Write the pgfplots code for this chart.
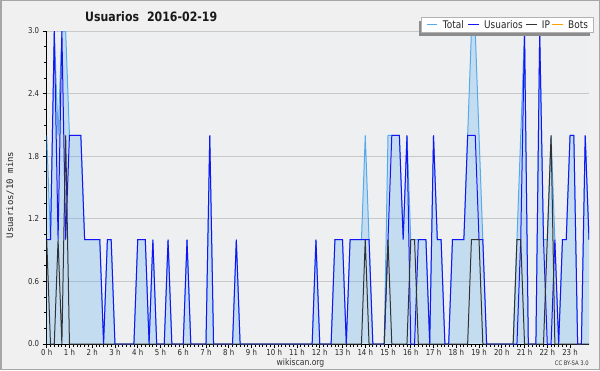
\documentclass[border=0pt]{standalone}
\usepackage{fontspec}
\setmainfont{DejaVu Sans}[FakeStretch=0.85]
\newfontfamily\monofont{DejaVu Sans Mono}
\usepackage{pgfplots}
\pgfplotsset{compat=1.18}
\usepackage{pgfplotstable}
\definecolor{totline}{RGB}{85,170,238}
\definecolor{usr}{RGB}{20,20,245}
\definecolor{ipc}{RGB}{50,50,50}
\definecolor{bots}{RGB}{255,160,0}
\definecolor{outerbg}{RGB}{240,240,240}
\definecolor{plotbg}{RGB}{238,239,241}
\definecolor{gridc}{RGB}{200,200,200}
\pgfplotstableread{
i t u p
0 2 1 1
1 1 1 0
2 3 3 0
3 2 1 1
4 3 3 0
5 3 1 2
6 2 2 0
7 2 2 0
8 2 2 0
9 2 2 0
10 1 1 0
11 1 1 0
12 1 1 0
13 1 1 0
14 1 1 0
15 0 0 0
16 1 1 0
17 1 1 0
18 0 0 0
19 0 0 0
20 0 0 0
21 0 0 0
22 0 0 0
23 0 0 0
24 1 1 0
25 1 1 0
26 1 1 0
27 0 0 0
28 1 1 0
29 0 0 0
30 0 0 0
31 0 0 0
32 1 1 0
33 0 0 0
34 0 0 0
35 0 0 0
36 0 0 0
37 1 1 0
38 0 0 0
39 0 0 0
40 0 0 0
41 0 0 0
42 0 0 0
43 2 2 0
44 0 0 0
45 0 0 0
46 0 0 0
47 0 0 0
48 0 0 0
49 0 0 0
50 1 1 0
51 0 0 0
52 0 0 0
53 0 0 0
54 0 0 0
55 0 0 0
56 0 0 0
57 0 0 0
58 0 0 0
59 0 0 0
60 0 0 0
61 0 0 0
62 0 0 0
63 0 0 0
64 0 0 0
65 0 0 0
66 0 0 0
67 0 0 0
68 0 0 0
69 0 0 0
70 0 0 0
71 1 1 0
72 0 0 0
73 0 0 0
74 0 0 0
75 0 0 0
76 1 1 0
77 1 1 0
78 1 1 0
79 0 0 0
80 1 1 0
81 1 1 0
82 1 1 0
83 1 1 0
84 2 1 1
85 1 1 0
86 0 0 0
87 0 0 0
88 0 0 0
89 0 0 0
90 2 1 1
91 2 2 0
92 2 2 0
93 2 2 0
94 1 1 0
95 2 2 0
96 1 0 1
97 1 0 1
98 1 1 0
99 1 1 0
100 1 1 0
101 0 0 0
102 2 2 0
103 1 1 0
104 1 1 0
105 0 0 0
106 0 0 0
107 1 1 0
108 1 1 0
109 1 1 0
110 1 1 0
111 2 2 0
112 3 2 1
113 3 2 1
114 2 1 1
115 1 1 0
116 0 0 0
117 0 0 0
118 0 0 0
119 0 0 0
120 0 0 0
121 0 0 0
122 0 0 0
123 0 0 0
124 1 0 1
125 2 1 1
126 3 3 0
127 0 0 0
128 0 0 0
129 0 0 0
130 3 3 0
131 1 1 0
132 1 0 1
133 2 0 2
134 1 1 0
135 0 0 0
136 1 1 0
137 1 1 0
138 2 2 0
139 2 2 0
140 0 0 0
141 0 0 0
142 2 2 0
143 1 1 0
}\data
\begin{document}
\begin{tikzpicture}
\useasboundingbox (0,0) rectangle (600pt,370pt);
\fill[outerbg] (0,0) rectangle (600pt,370pt);
\draw[black!35, line width=1.5pt] (0.75pt,0.75pt) rectangle (599.25pt,369.25pt);
\begin{axis}[
  at={(46.7pt,26pt)}, anchor=south west,
  scale only axis, width=542.3pt, height=313pt,
  xmin=0, xmax=143, ymin=0, ymax=3,
  axis x line*=bottom, axis y line*=left,
  axis line style={-, black, line width=1pt},
  axis background/.style={fill=plotbg},
  xtick={0,6,...,138},
  xticklabels={0 h,1 h,2 h,3 h,4 h,5 h,6 h,7 h,8 h,9 h,10 h,11 h,12 h,13 h,14 h,15 h,16 h,17 h,18 h,19 h,20 h,21 h,22 h,23 h},
  minor x tick num=5,
  ytick={0,0.6,1.2,1.8,2.4,3.0},
  minor y tick num=3,
  tick align=outside,
  major tick length=4pt, minor tick length=2.5pt,
  every tick/.style={black, line width=0.8pt},
  ymajorgrids, major grid style={gridc, line width=1pt},
  ticklabel style={font=\fontsize{8.2}{9}\selectfont, text=black!85},
  yticklabel style={/pgf/number format/.cd, fixed, fixed zerofill, precision=1, assume math mode=true},
  xticklabel style={yshift=1.8pt},
]
\addplot[draw=none, fill=totline, fill opacity=0.27] table[x=i,y=t]{\data} \closedcycle;
\addplot[totline, line width=1pt] table[x=i,y=t]{\data};
\addplot[usr, line width=1pt] table[x=i,y=u]{\data};
\addplot[ipc, line width=1pt] table[x=i,y=p]{\data};
\end{axis}
% legend
\fill[black!45] (418.7pt,334.2pt) rectangle (590.3pt,349.2pt);
\filldraw[fill=white, draw=black!30, line width=0.8pt] (421.7pt,337.7pt) rectangle (593.3pt,352.7pt);
\draw[totline, line width=1pt] (426.7pt,345.2pt) -- (437.3pt,345.2pt);
\node[anchor=base west, inner sep=0, font=\fontsize{10.5}{12}\selectfont, text=black!85] at (442.7pt,341.4pt) {Total};
\draw[usr, line width=1pt] (468pt,345.2pt) -- (479pt,345.2pt);
\node[anchor=base west, inner sep=0, font=\fontsize{10.5}{12}\selectfont, text=black!85] at (484pt,341.4pt) {Usuarios};
\draw[ipc, line width=1pt] (526pt,345.2pt) -- (536.7pt,345.2pt);
\node[anchor=base west, inner sep=0, font=\fontsize{10.5}{12}\selectfont, text=black!85] at (541.7pt,341.4pt) {IP};
\draw[bots, line width=1pt] (551.7pt,345.2pt) -- (563.3pt,345.2pt);
\node[anchor=base west, inner sep=0, font=\fontsize{10.5}{12}\selectfont, text=black!85] at (568pt,341.4pt) {Bots};
% titles
\node[anchor=base west, inner sep=0, font=\bfseries\fontsize{12.9}{15}\selectfont, text=black!90] at (85pt,348.3pt) {Usuarios\hspace{8pt}2016-02-19};
\node[rotate=90, inner sep=0, font=\monofont\fontsize{9}{10}\selectfont, text=black!85] at (10pt,175pt) {Usuarios/10 mins};
\node[anchor=base, inner sep=0, font=\fontsize{9}{10}\selectfont, text=black!80] at (300.5pt,5pt) {wikiscan.org};
\node[anchor=base east, inner sep=0, font=\fontsize{6.2}{7}\selectfont, text=black!80] at (589pt,5pt) {CC BY-SA 3.0};
\end{tikzpicture}
\end{document}
